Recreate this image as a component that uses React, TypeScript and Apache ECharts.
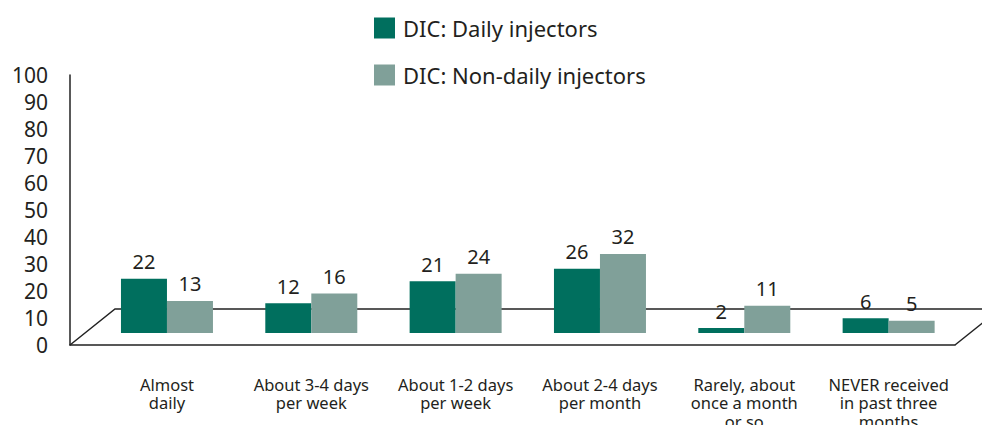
import React, { useEffect, useRef } from "react";
import * as echarts from "echarts";

const categories = [
  "Almost\ndaily",
  "About 3-4 days\nper week",
  "About 1-2 days\nper week",
  "About 2-4 days\nper month",
  "Rarely, about\nonce a month\nor so",
  "NEVER received\nin past three\nmonths",
];
const dailyValues = [22, 12, 21, 26, 2, 6];
const nonDailyValues = [13, 16, 24, 32, 11, 5];
const seriesNames = ["DIC: Daily injectors", "DIC: Non-daily injectors"];
const yTicks = [0, 100, 10];

const FONT = "'Noto Sans', sans-serif";
const TEXT = "#231f20";
const DARK = "#006f5e";
const LIGHT = "#80a099";

export default function App() {
  const ref = useRef<HTMLDivElement>(null);
  useEffect(() => {
    if (!ref.current) return;
    const chart = echarts.init(ref.current, undefined, { renderer: "svg" });
    chart.setOption({
      animation: false,
      textStyle: { fontFamily: FONT, color: TEXT },
      legend: {
        orient: "vertical",
        left: 374,
        top: 17,
        padding: 0,
        itemWidth: 21,
        itemHeight: 21,
        itemGap: 25,
        icon: "rect",
        textStyle: { fontSize: 22, color: TEXT, fontFamily: FONT, padding: [0, 0, 0, 3] },
        data: seriesNames,
      },
      grid: [
        { left: 70, top: 75, width: 885, height: 270, outerBoundsMode: "none", containLabel: false },
        { left: 94.8, top: 86, width: 866, height: 247, outerBoundsMode: "none", containLabel: false },
      ],
      xAxis: [
        {
          type: "category",
          gridIndex: 0,
          data: categories,
          axisLine: { show: true, lineStyle: { color: "#222", width: 1.5 } },
          axisTick: { show: false },
          axisLabel: { show: false },
        },
        {
          type: "category",
          gridIndex: 1,
          data: categories,
          axisLine: { show: false },
          axisTick: { show: false },
          axisLabel: {
            margin: 42,
            fontSize: 16.5,
            lineHeight: 18.5,
            color: TEXT,
            fontFamily: FONT,
            interval: 0,
          },
        },
      ],
      yAxis: [
        {
          type: "value",
          gridIndex: 0,
          min: yTicks[0],
          max: yTicks[1],
          interval: yTicks[2],
          axisLine: { show: true, lineStyle: { color: "#222", width: 1.5 } },
          axisTick: { show: false },
          splitLine: { show: false },
          axisLabel: { fontSize: 21, color: TEXT, margin: 22, fontFamily: FONT },
        },
        {
          type: "value",
          gridIndex: 1,
          min: 0,
          max: 100,
          show: false,
          splitLine: { show: false },
        },
      ],
      graphic: [
        {
          type: "polyline",
          shape: { points: [[70, 345], [115, 309], [990, 309]] },
          style: { stroke: "#222", lineWidth: 1.5, fill: null },
          z: 1,
        },
        {
          type: "polyline",
          shape: { points: [[955, 345], [990, 317]] },
          style: { stroke: "#222", lineWidth: 1.5, fill: null },
          z: 1,
        },
      ],
      series: [
        {
          name: seriesNames[0],
          type: "bar",
          xAxisIndex: 1,
          yAxisIndex: 1,
          data: dailyValues,
          barWidth: 46,
          barGap: "0%",
          itemStyle: { color: DARK },
          label: { show: true, position: "top", distance: 7, fontSize: 20, color: TEXT, fontFamily: FONT },
          z: 3,
        },
        {
          name: seriesNames[1],
          type: "bar",
          xAxisIndex: 1,
          yAxisIndex: 1,
          data: nonDailyValues,
          barWidth: 46,
          barGap: "0%",
          itemStyle: { color: LIGHT },
          label: { show: true, position: "top", distance: 7, fontSize: 20, color: TEXT, fontFamily: FONT },
          z: 3,
        },
      ],
    });
    return () => chart.dispose();
  }, []);
  return <div ref={ref} style={{ width: 990, height: 433, margin: -8 }} />;
}
